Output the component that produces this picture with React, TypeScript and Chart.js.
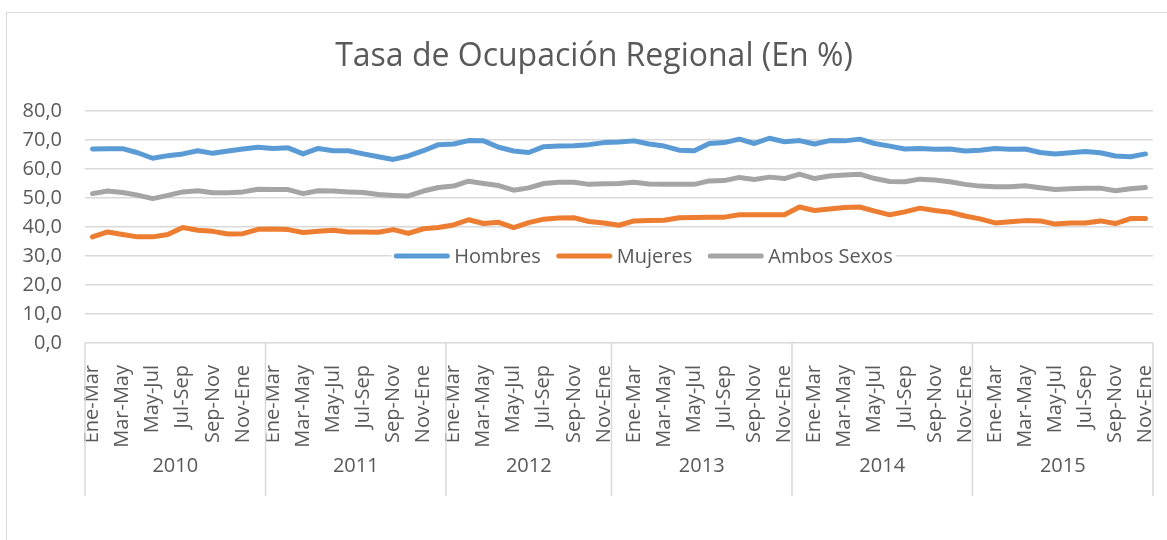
import { useEffect, useRef } from 'react';
import { Chart, registerables } from 'chart.js';

Chart.register(...registerables);

const categories = [
  'Ene-Mar', 'Feb-Abr', 'Mar-May', 'Abr-Jun', 'May-Jul', 'Jun-Ago', 'Jul-Sep', 'Ago-Oct', 'Sep-Nov', 'Oct-Dic', 'Nov-Ene', 'Dic-Feb',
  'Ene-Mar', 'Feb-Abr', 'Mar-May', 'Abr-Jun', 'May-Jul', 'Jun-Ago', 'Jul-Sep', 'Ago-Oct', 'Sep-Nov', 'Oct-Dic', 'Nov-Ene', 'Dic-Feb',
  'Ene-Mar', 'Feb-Abr', 'Mar-May', 'Abr-Jun', 'May-Jul', 'Jun-Ago', 'Jul-Sep', 'Ago-Oct', 'Sep-Nov', 'Oct-Dic', 'Nov-Ene',
  'Dic-Feb', 'Ene-Mar', 'Feb-Abr', 'Mar-May', 'Abr-Jun', 'May-Jul', 'Jun-Ago', 'Jul-Sep', 'Ago-Oct', 'Sep-Nov', 'Oct-Dic', 'Nov-Ene',
  'Dic-Feb', 'Ene-Mar', 'Feb-Abr', 'Mar-May', 'Abr-Jun', 'May-Jul', 'Jun-Ago', 'Jul-Sep', 'Ago-Oct', 'Sep-Nov', 'Oct-Dic', 'Nov-Ene',
  'Dic-Feb', 'Ene-Mar', 'Feb-Abr', 'Mar-May', 'Abr-Jun', 'May-Jul', 'Jun-Ago', 'Jul-Sep', 'Ago-Oct', 'Sep-Nov', 'Oct-Dic', 'Nov-Ene',
];

const yearLabels = ['2010', '2011', '2012', '2013', '2014', '2015'];
const yearSizes = [12, 12, 11, 12, 12, 12];

const hombres = [
  66.9, 67.0, 67.0, 65.6, 63.7, 64.6, 65.2, 66.3, 65.4, 66.2, 66.9, 67.5,
  67.1, 67.3, 65.2, 67.1, 66.3, 66.3, 65.2, 64.2, 63.3, 64.5, 66.3, 68.4,
  68.6, 69.8, 69.7, 67.5, 66.2, 65.7, 67.7, 67.9, 68.0, 68.4, 69.1,
  69.3, 69.7, 68.6, 67.9, 66.5, 66.3, 68.8, 69.1, 70.3, 68.8, 70.6, 69.4,
  69.8, 68.6, 69.8, 69.7, 70.3, 68.8, 67.9, 66.9, 67.1, 66.8, 66.9, 66.2,
  66.5, 67.1, 66.8, 66.9, 65.7, 65.2, 65.6, 66.0, 65.6, 64.5, 64.2, 65.2,
];

const mujeres = [
  36.6, 38.3, 37.4, 36.6, 36.6, 37.4, 39.8, 38.9, 38.5, 37.6, 37.7, 39.2,
  39.3, 39.1, 38.1, 38.5, 38.9, 38.3, 38.3, 38.2, 39.1, 37.8, 39.4, 39.8,
  40.7, 42.5, 41.2, 41.6, 39.8, 41.5, 42.7, 43.1, 43.2, 41.9, 41.4,
  40.6, 42.1, 42.2, 42.3, 43.2, 43.3, 43.4, 43.4, 44.2, 44.2, 44.2, 44.2,
  46.9, 45.7, 46.2, 46.7, 46.9, 45.5, 44.2, 45.2, 46.5, 45.7, 45.1, 43.8,
  42.8, 41.4, 41.8, 42.2, 42.1, 41.0, 41.4, 41.4, 42.1, 41.2, 42.9, 42.9,
];

const ambos = [
  51.5, 52.4, 51.9, 51.0, 49.8, 50.9, 52.1, 52.5, 51.8, 51.8, 52.1, 53.0,
  52.9, 52.9, 51.5, 52.5, 52.4, 52.1, 51.9, 51.2, 50.9, 50.7, 52.4, 53.6,
  54.1, 55.8, 55.0, 54.3, 52.7, 53.5, 55.0, 55.4, 55.4, 54.7, 54.9,
  55.0, 55.4, 54.8, 54.7, 54.7, 54.7, 55.9, 56.0, 57.1, 56.4, 57.2, 56.7,
  58.2, 56.7, 57.6, 57.9, 58.2, 56.7, 55.7, 55.6, 56.5, 56.2, 55.6, 54.7,
  54.1, 53.9, 53.9, 54.2, 53.5, 52.9, 53.2, 53.4, 53.4, 52.5, 53.2, 53.6,
];

const seriesNames = ['Hombres', 'Mujeres', 'Ambos Sexos'];
const seriesColors = ['#5B9BD5', '#ED7D31', '#A5A5A5'];

const FONT = '"Open Sans", "Noto Sans", sans-serif';
const TEXT = '#595959';
const GRID = '#d9d9d9';

const yearAxisPlugin = {
  id: 'yearAxis',
  afterDraw(chart: any) {
    const { ctx, chartArea } = chart;
    const xs = chart.scales.x;
    const top = chartArea.bottom;
    const bottom = chartArea.bottom + 153;
    const edges: number[] = [chartArea.left];
    let idx = 0;
    yearSizes.forEach((n, g) => {
      idx += n;
      if (g === yearSizes.length - 1) edges.push(chartArea.right);
      else edges.push((xs.getPixelForTick(idx - 1) + xs.getPixelForTick(idx)) / 2);
    });
    ctx.save();
    ctx.strokeStyle = GRID;
    ctx.lineWidth = 1.5;
    edges.forEach((e) => {
      ctx.beginPath();
      ctx.moveTo(e, top);
      ctx.lineTo(e, bottom);
      ctx.stroke();
    });
    ctx.fillStyle = TEXT;
    ctx.font = `20px ${FONT}`;
    ctx.textAlign = 'center';
    ctx.textBaseline = 'middle';
    yearLabels.forEach((y, g) => {
      ctx.fillText(y, (edges[g] + edges[g + 1]) / 2, chartArea.bottom + 123);
    });
    ctx.restore();
  },
};

const midLegendPlugin = {
  id: 'midLegend',
  afterDraw(chart: any) {
    const { ctx, chartArea } = chart;
    ctx.save();
    ctx.font = `20px ${FONT}`;
    const lineLen = 55;
    const gap = 5;
    const itemGap = 16;
    const items = chart.data.datasets.map((ds: any) => ({
      label: ds.label,
      color: ds.borderColor,
      w: ctx.measureText(ds.label).width,
    }));
    const total = items.reduce((s: number, it: any) => s + lineLen + gap + it.w, 0) + itemGap * (items.length - 1);
    const cx = chartArea.left + 558.5;
    const y = chartArea.top + 145;
    let x = cx - total / 2;
    ctx.fillStyle = '#ffffff';
    ctx.fillRect(x - 3, y - 13, total + 6, 26);
    items.forEach((it: any) => {
      ctx.strokeStyle = it.color;
      ctx.lineWidth = 5;
      ctx.lineCap = 'round';
      ctx.beginPath();
      ctx.moveTo(x + 2, y);
      ctx.lineTo(x + lineLen - 2, y);
      ctx.stroke();
      ctx.fillStyle = TEXT;
      ctx.textAlign = 'left';
      ctx.textBaseline = 'middle';
      ctx.fillText(it.label, x + lineLen + gap, y + 1);
      x += lineLen + gap + it.w + itemGap;
    });
    ctx.restore();
  },
};

export default function App() {
  const ref = useRef<HTMLCanvasElement | null>(null);

  useEffect(() => {
    if (!ref.current) return;
    const series = [hombres, mujeres, ambos];
    const chart = new Chart(ref.current, {
      type: 'line',
      data: {
        labels: categories,
        datasets: series.map((d, i) => ({
          label: seriesNames[i],
          data: d,
          borderColor: seriesColors[i],
          backgroundColor: seriesColors[i],
          borderWidth: 5,
          pointRadius: 0,
          tension: 0,
          borderCapStyle: 'round',
          borderJoinStyle: 'round',
          fill: false,
        })),
      },
      options: {
        responsive: false,
        animation: false,
        devicePixelRatio: 1,
        layout: { padding: { left: 21, right: 0, top: 0, bottom: 0 } },
        plugins: {
          legend: { display: false },
          tooltip: { enabled: false },
          title: {
            display: true,
            text: 'Tasa de Ocupación Regional (En %)',
            color: TEXT,
            font: { family: FONT, size: 32, weight: 'normal' },
            padding: { top: 38, bottom: 34.6 },
          },
        },
        scales: {
          x: {
            type: 'category',
            offset: true,
            grid: { display: false },
            border: { display: false },
            ticks: {
              autoSkip: false,
              maxRotation: 90,
              minRotation: 90,
              padding: 14,
              color: TEXT,
              font: { family: FONT, size: 20 },
              callback: (_v: any, i: number) => (i % 2 === 0 ? categories[i] : ''),
            },
            afterFit: (s: any) => {
              s.height = 197;
              s.paddingLeft = 0;
              s.paddingRight = 14;
            },
          },
          y: {
            min: 0,
            max: 80,
            grid: { color: GRID, lineWidth: 1.5, drawTicks: false },
            border: { display: false },
            ticks: {
              stepSize: 10,
              padding: 23,
              color: TEXT,
              font: { family: FONT, size: 20 },
              callback: (v: any) => Number(v).toFixed(1).replace('.', ','),
            },
            afterFit: (s: any) => {
              s.width = 64;
            },
          },
        },
      },
      plugins: [yearAxisPlugin, midLegendPlugin],
    } as any);
    return () => chart.destroy();
  }, []);

  return (
    <div style={{ position: 'absolute', left: 0, top: 0, width: 1167, height: 540, overflow: 'hidden', background: '#fff' }}>
      <div style={{ position: 'absolute', left: 6, top: 12, width: 1300, height: 700, border: `1px solid ${GRID}` }} />
      <canvas ref={ref} width={1167} height={540} style={{ position: 'absolute', left: 0, top: 0, width: 1167, height: 540 }} />
    </div>
  );
}
